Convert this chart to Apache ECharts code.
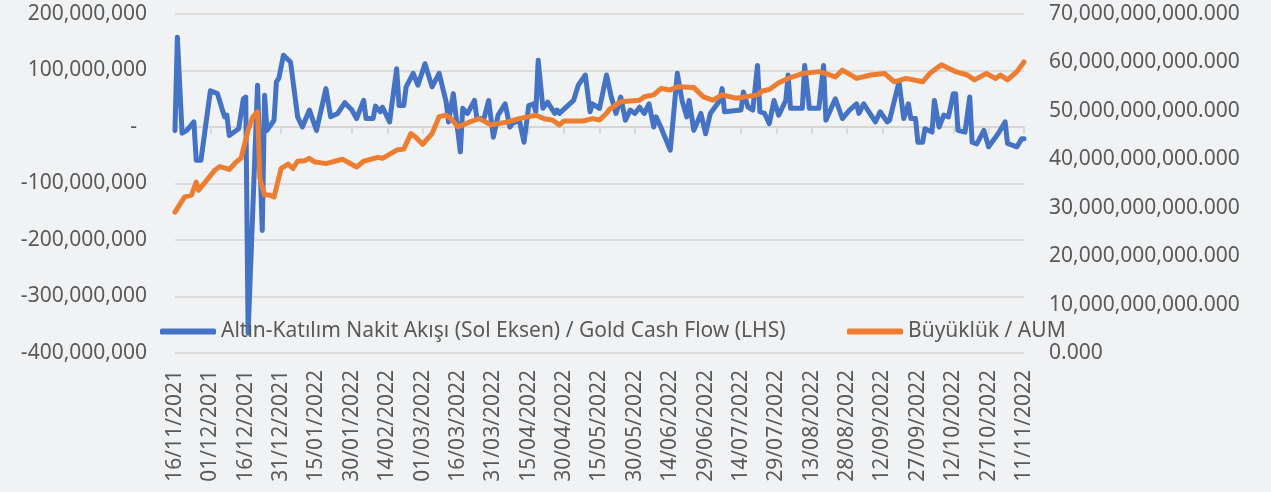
<!DOCTYPE html>
<html>
<head>
<meta charset="utf-8">
<script src="https://cdn.jsdelivr.net/npm/echarts@6/dist/echarts.min.js"></script>
<style>
    html, body { margin: 0; padding: 0; background: #f1f2f4; }
    #chart { width: 1271px; height: 492px; }
</style>
</head>
<body>
<div id="chart"></div>
<script>
// x = gün sayısı (16/11/2021'den itibaren)
const tickLabels = ['16/11/2021', '01/12/2021', '16/12/2021', '31/12/2021', '15/01/2022', '30/01/2022',
    '14/02/2022', '01/03/2022', '16/03/2022', '31/03/2022', '15/04/2022', '30/04/2022', '15/05/2022',
    '30/05/2022', '14/06/2022', '29/06/2022', '14/07/2022', '29/07/2022', '13/08/2022', '28/08/2022',
    '12/09/2022', '27/09/2022', '12/10/2022', '27/10/2022', '11/11/2022']

// Nakit akışı (milyon)
const flowDay = [0, 1, 3, 5, 8, 9, 11, 15, 18, 21, 22, 23, 27, 29, 30, 31, 35, 37, 38, 39, 40, 42, 43, 44, 46, 49,
    52, 54, 57, 59, 60, 64, 66, 69, 72, 75, 77, 80, 81, 84, 85, 87, 88, 91, 92, 94, 95, 97, 98, 101, 103, 106,
    109, 112, 115, 116, 118, 121, 122, 124, 127, 128, 131, 133, 135, 137, 140, 142, 143, 146, 148, 150, 152,
    153, 154, 156, 158, 161, 162, 163, 169, 171, 174, 176, 177, 180, 183, 185, 187, 189, 191, 193, 195, 197,
    199, 201, 203, 204, 206, 210, 211, 213, 215, 217, 218, 220, 223, 225, 227, 231, 232, 233, 240, 241, 243,
    245, 247, 248, 250, 252, 254, 256, 259, 260, 261, 266, 267, 269, 273, 275, 276, 280, 283, 286, 289, 290,
    292, 297, 299, 302, 303, 307, 309, 311, 312, 314, 315, 317, 318, 321, 322, 324, 326, 328, 330, 331, 332,
    335, 337, 338, 340, 343, 345, 349, 352, 353, 357, 359, 360]
const flowValue = [-6, 159, -11, -6, 9, -59, -59, 64, 59, 18, 21, -15, -3, 50, 53, -365, 74, -183, 56, -6, 0, 12,
    80, 86, 127, 115, 18, 0, 30, 6, -6, 68, 18, 24, 43, 30, 15, 47, 15, 15, 37, 27, 35, 9, 41, 103, 38, 38, 71,
    95, 74, 112, 71, 95, 44, 9, 59, -44, 33, 24, 47, 15, 15, 47, -18, 21, 41, 0, 6, 12, -27, 38, 41, 27, 118,
    33, 44, 24, 30, 24, 47, 74, 92, 27, 41, 33, 92, 53, 24, 53, 12, 30, 24, 35, 24, 41, 0, 18, 0, -41, 3, 95,
    47, 18, 47, -6, 24, -12, 24, 47, 68, 27, 30, 62, 35, 30, 109, 27, 24, 6, 47, 21, 47, 92, 33, 33, 109, 33,
    33, 109, 12, 50, 15, 30, 41, 24, 41, 9, 27, 9, 12, 80, 15, 41, 15, 15, -27, -27, -3, -9, 47, 0, 21, 18, 59,
    59, -6, -9, 53, -27, -30, -6, -35, -12, 9, -29, -35, -21, -21]

// Büyüklük (milyar)
const aumDay = [0, 4, 7, 9, 10, 14, 17, 19, 23, 26, 28, 31, 33, 35, 36, 38, 40, 42, 45, 48, 50, 52, 55, 57, 59,
    64, 71, 77, 80, 86, 88, 94, 97, 100, 102, 105, 109, 112, 115, 117, 120, 125, 129, 134, 141, 146, 153, 157,
    160, 163, 165, 173, 177, 180, 183, 184, 189, 197, 199, 203, 206, 210, 213, 220, 224, 228, 232, 238, 247,
    249, 252, 256, 260, 266, 273, 276, 280, 283, 289, 295, 301, 305, 310, 317, 320, 325, 331, 336, 339, 344,
    348, 350, 353, 357, 360]
const aumValue = [29.1, 32.2, 32.6, 35.3, 33.6, 36.0, 37.8, 38.5, 37.9, 39.5, 40.2, 46.0, 48.8, 49.8, 36.0, 32.6,
    32.6, 32.2, 38.1, 39.0, 38.1, 39.6, 39.7, 40.2, 39.5, 39.1, 40.0, 38.4, 39.6, 40.4, 40.2, 41.9, 42.1, 45.3,
    44.6, 43.1, 45.3, 48.8, 49.1, 48.4, 46.7, 47.7, 48.4, 47.1, 47.7, 48.4, 49.1, 48.3, 48.1, 47.1, 47.9, 47.9,
    48.4, 48.1, 49.5, 50.2, 51.9, 52.2, 52.9, 53.3, 54.6, 54.3, 55.0, 54.8, 52.9, 52.2, 53.3, 52.6, 53.3, 54.1,
    54.4, 55.8, 56.7, 57.7, 58.1, 57.7, 57.0, 58.4, 56.7, 57.4, 57.7, 56.0, 56.7, 56.0, 57.7, 59.5, 58.1, 57.4,
    56.4, 57.7, 56.7, 57.4, 56.4, 58.1, 60.1]

const FONT = 'Noto Sans'
const TEXT_COLOR = '#595959'
const GRID_COLOR = '#d4d4d4'

let chart = echarts.init(document.getElementById('chart'))

// sıfır çizgisindeki eksen için gün listesi
const dayIndex = []
for (let i = 0; i <= 360; i++) {
    dayIndex.push(String(i))
}

const option = {
    backgroundColor: '#f1f2f4',
    textStyle: {fontFamily: FONT},
    animation: false,
    grid: {
        left: 175,
        right: 247,
        top: 14,
        bottom: 139
    },
    legend: [
        {
            data: ['Altın-Katılım Nakit Akışı (Sol Eksen) / Gold Cash Flow (LHS)'],
            left: 160,
            top: 321,
            padding: 0,
            icon: 'roundRect',
            itemWidth: 56,
            itemHeight: 6,
            textStyle: {fontSize: 21, color: TEXT_COLOR, fontFamily: FONT}
        },
        {
            data: ['Büyüklük / AUM'],
            left: 847,
            top: 321,
            padding: 0,
            icon: 'roundRect',
            itemWidth: 56,
            itemHeight: 6,
            textStyle: {fontSize: 21, color: TEXT_COLOR, fontFamily: FONT}
        }
    ],
    xAxis: [
        {
            type: 'value',
            min: 0,
            max: 360,
            interval: 15,
            position: 'bottom',
            axisLine: {show: false, onZero: false},
            axisTick: {show: false},
            splitLine: {show: false},
            axisLabel: {
                rotate: 90,
                margin: 17,
                fontSize: 21,
                color: TEXT_COLOR,
                fontFamily: FONT,
                formatter: v => tickLabels[Math.round(v / 15)] || ''
            }
        },
        {
            // sıfır çizgisi (sol eksende 0 seviyesi)
            type: 'category',
            data: dayIndex,
            boundaryGap: false,
            position: 'bottom',
            offset: -226,
            axisLine: {show: true, onZero: false, lineStyle: {color: GRID_COLOR, width: 1.5}},
            axisTick: {show: true, interval: 14, length: 7, lineStyle: {color: GRID_COLOR, width: 1.5}},
            axisLabel: {show: false, interval: 14},
            splitLine: {show: false}
        }
    ],
    yAxis: [
        {
            type: 'value',
            min: -400,
            max: 200,
            interval: 100,
            axisLine: {show: false},
            axisTick: {show: false},
            splitLine: {lineStyle: {color: GRID_COLOR, width: 1.5}},
            axisLabel: {
                margin: 28,
                fontSize: 21,
                color: TEXT_COLOR,
                fontFamily: FONT,
                formatter: v => v === 0 ? '{z|-}' : (v * 1e6).toLocaleString('en-US'),
                rich: {z: {fontSize: 21, color: TEXT_COLOR, fontFamily: FONT, padding: [0, 10, 0, 0]}}
            }
        },
        {
            type: 'value',
            min: 0,
            max: 70,
            interval: 10,
            position: 'right',
            axisLine: {show: false},
            axisTick: {show: false},
            splitLine: {show: false},
            axisLabel: {
                margin: 25,
                fontSize: 21,
                color: TEXT_COLOR,
                fontFamily: FONT,
                formatter: v => (v * 1e9).toLocaleString('en-US', {minimumFractionDigits: 3, maximumFractionDigits: 3})
            }
        }
    ],
    series: [
        {
            name: 'Altın-Katılım Nakit Akışı (Sol Eksen) / Gold Cash Flow (LHS)',
            type: 'line',
            xAxisIndex: 0,
            yAxisIndex: 0,
            data: flowDay.map((d, i) => [d, flowValue[i]]),
            symbol: 'none',
            itemStyle: {color: '#4472C4'},
            lineStyle: {color: '#4472C4', width: 5, join: 'round', cap: 'round'}
        },
        {
            name: 'Büyüklük / AUM',
            type: 'line',
            xAxisIndex: 0,
            yAxisIndex: 1,
            data: aumDay.map((d, i) => [d, aumValue[i]]),
            symbol: 'none',
            itemStyle: {color: '#ED7D31'},
            lineStyle: {color: '#ED7D31', width: 5, join: 'round', cap: 'round'}
        }
    ]
}
chart.setOption(option)
</script>
</body>
</html>
